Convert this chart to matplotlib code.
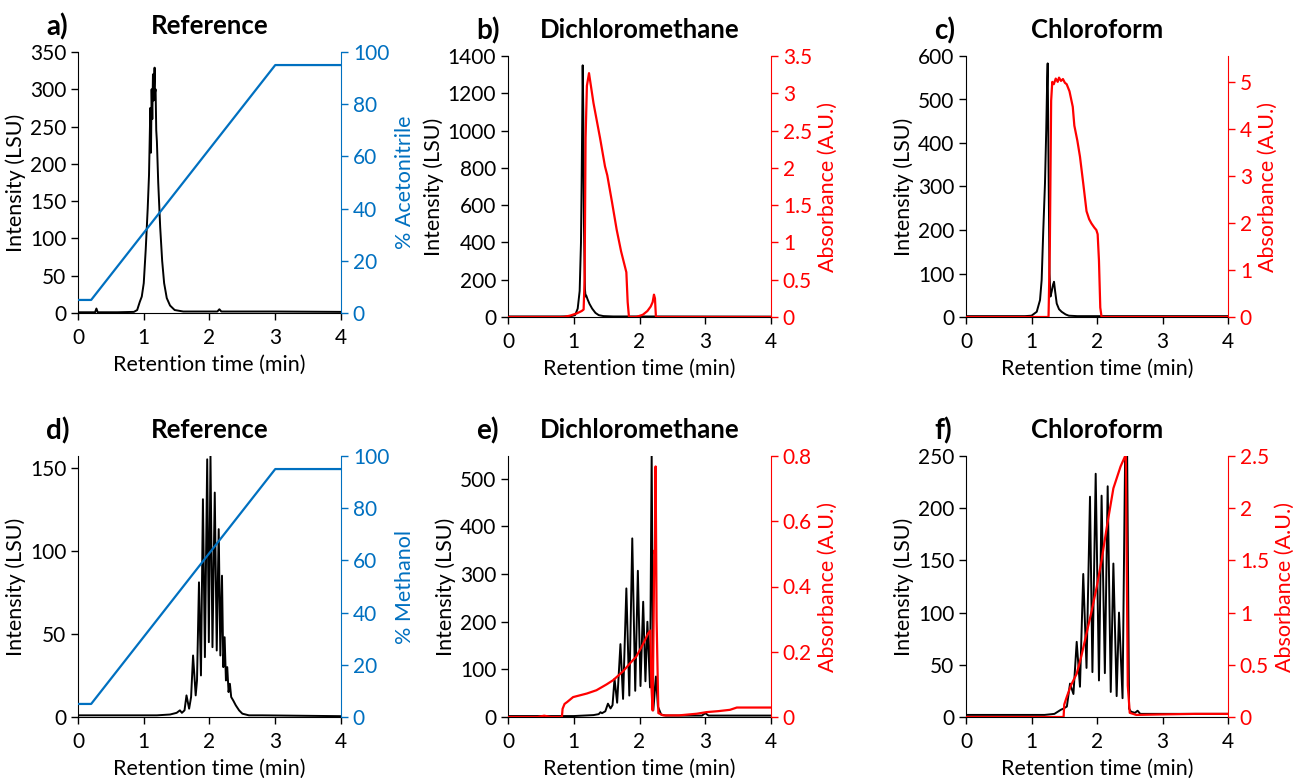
import matplotlib
matplotlib.use("Agg")
import matplotlib.pyplot as plt

plt.rcParams['font.family'] = ['Lato', 'DejaVu Sans']

BLUE = '#0070C0'
RED = '#FF0000'

# gradient programme (% organic), same for a) and d)
grad_t = [0, 0.2, 3.0, 4.0]
grad_pct = [5, 5, 95, 95]

# a) reference, acetonitrile
a_t = [0, 0.26, 0.28, 0.30, 0.6, 0.85, 0.90, 0.94, 0.97, 1.00, 1.03, 1.06, 1.08, 1.10, 1.11, 1.12, 1.13,
       1.14, 1.15, 1.16, 1.165, 1.17, 1.18, 1.19, 1.20, 1.22, 1.25, 1.28, 1.31, 1.35, 1.40, 1.47, 1.6,
       2.12, 2.15, 2.18, 3.0, 4.0]
a_lsu = [1, 1, 6, 1, 1, 1.5, 4, 15, 22, 40, 85, 140, 185, 275, 215, 300, 260,
         320, 285, 310, 329, 295, 300, 245, 230, 175, 115, 70, 40, 20, 10, 4, 2,
         2, 5, 2, 2, 1.5]

# b) dichloromethane, acetonitrile
b_t = [0, 0.8, 0.95, 1.02, 1.06, 1.09, 1.11, 1.12, 1.13, 1.136, 1.145, 1.155, 1.17, 1.18, 1.19, 1.21,
       1.24, 1.28, 1.33, 1.38, 1.45, 1.6, 2.0, 4.0]
b_lsu = [3, 3, 4, 10, 45, 140, 400, 720, 1100, 1350, 1100, 500, 150, 110, 115, 95,
         70, 45, 22, 10, 5, 3, 3, 2]
b_abs_t = [0, 0.85, 0.95, 1.05, 1.12, 1.15, 1.165, 1.18, 1.20, 1.232, 1.30, 1.40, 1.475, 1.51, 1.58,
           1.653, 1.72, 1.78, 1.80, 1.82, 1.84, 1.95, 2.05, 2.12, 2.17, 2.20, 2.22, 2.235, 2.25, 2.3, 4.0]
b_abs = [0, 0, 0.02, 0.05, 0.08, 0.1, 0.5, 2.4, 3.1, 3.27, 2.87, 2.4, 2.02, 1.9, 1.55,
         1.17, 0.88, 0.67, 0.6, 0.2, 0.0, 0.0, 0.03, 0.08, 0.14, 0.2, 0.3, 0.25, 0.0, 0, 0]

# c) chloroform, acetonitrile
c_t = [0, 0.9, 1.0, 1.08, 1.13, 1.155, 1.18, 1.206, 1.225, 1.24, 1.247, 1.26, 1.275, 1.29, 1.31, 1.33,
       1.344, 1.36, 1.385, 1.42, 1.46, 1.52, 1.57, 1.7, 2.2, 4.0]
c_lsu = [2, 2, 3, 12, 39, 85, 200, 308, 430, 550, 583, 350, 100, 47, 60, 75,
         81, 60, 31, 18, 12, 6, 3, 2, 2, 2]
c_abs_t = [0, 1.26, 1.28, 1.30, 1.317, 1.34, 1.37, 1.40, 1.42, 1.45, 1.48, 1.51, 1.537, 1.58, 1.63,
           1.654, 1.70, 1.74, 1.79, 1.84, 1.88, 1.915, 1.96, 1.99, 2.01, 2.03, 2.05, 2.07, 4.0]
c_abs = [0, 0, 1.5, 4.6, 5.0, 4.95, 5.07, 5.0, 5.09, 5.02, 5.06, 4.98, 4.95, 4.8, 4.47,
         4.07, 3.75, 3.41, 2.84, 2.25, 2.08, 1.99, 1.9, 1.85, 1.76, 1.2, 0.2, 0, 0]

# d) reference, methanol
d_t = [0, 1.2, 1.4, 1.5, 1.55, 1.58, 1.62, 1.65, 1.69, 1.72, 1.75, 1.79, 1.81, 1.84, 1.87, 1.90, 1.93,
       1.965, 1.99, 2.015, 2.045, 2.08, 2.11, 2.14, 2.165, 2.19, 2.21, 2.23, 2.25, 2.27, 2.29, 2.31,
       2.33, 2.36, 2.40, 2.45, 2.5, 2.6, 2.8, 4.0]
d_lsu = [1, 1, 1.5, 2.5, 4, 2.5, 4, 13, 5, 12, 37, 13, 22, 81, 25, 131, 36,
         155, 45, 157, 42, 135, 40, 113, 37, 85, 30, 48, 22, 30, 15, 20,
         12, 10, 7, 4, 2, 1, 1, 0.5]

# e) dichloromethane, methanol
e_t = [0, 1.0, 1.3, 1.38, 1.406, 1.43, 1.48, 1.52, 1.56, 1.59, 1.62, 1.66, 1.71, 1.75, 1.80, 1.845,
       1.89, 1.935, 1.975, 2.015, 2.056, 2.09, 2.12, 2.16, 2.185, 2.21, 2.25, 2.28, 2.33, 2.4, 2.6,
       2.95, 3.0, 3.05, 4.0]
e_lsu = [2, 2, 4, 6, 10, 8, 12, 28, 18, 25, 80, 30, 153, 38, 270, 45,
         375, 55, 307, 65, 242, 75, 200, 62, 550, 14, 85, 22, 5, 3, 3,
         3, 8, 3, 3]
e_abs_t = [0, 0.45, 0.55, 0.65, 0.82, 0.83, 0.86, 0.9, 0.99, 1.2, 1.345, 1.5, 1.6, 1.75, 1.853, 1.95,
           2.005, 2.07, 2.13, 2.167, 2.18, 2.2, 2.215, 2.225, 2.235, 2.245, 2.26, 2.287, 2.36, 2.6,
           2.87, 3.02, 3.2, 3.376, 3.48, 4.0]
e_abs = [0, 0, 0.004, 0, 0, 0.025, 0.04, 0.046, 0.061, 0.072, 0.082, 0.1, 0.113, 0.14, 0.164, 0.185,
         0.205, 0.23, 0.256, 0.265, 0.1, 0.02, 0.3, 0.51, 0.5, 0.768, 0.3, 0.012, 0.005, 0.005,
         0.01, 0.015, 0.018, 0.022, 0.029, 0.029]

# f) chloroform, methanol
f_t = [0, 1.2, 1.35, 1.4, 1.45, 1.486, 1.54, 1.588, 1.64, 1.69, 1.74, 1.79, 1.84, 1.893, 1.93, 1.98,
       2.03, 2.07, 2.12, 2.163, 2.21, 2.25, 2.3, 2.336, 2.39, 2.43, 2.46, 2.49, 2.52, 2.58, 2.62, 2.66,
       3.0, 4.0]
f_lsu = [2, 2, 3, 5, 7, 8, 10, 32, 22, 72, 29, 137, 47, 211, 43, 233,
         35, 212, 42, 221, 24, 147, 20, 100, 18, 255, 255, 8, 5, 4, 6, 3,
         3, 3]
f_abs_t = [0, 1.49, 1.5, 1.537, 1.6, 1.69, 1.76, 1.84, 1.92, 1.997, 2.07, 2.15, 2.25, 2.36, 2.43, 2.44,
           2.47, 2.5, 2.6, 3.0, 3.5, 4.0]
f_abs = [0, 0, 0.12, 0.19, 0.3, 0.415, 0.58, 0.8, 1.02, 1.25, 1.5, 1.82, 2.19, 2.4, 2.5, 2.5,
         0.3, 0.04, 0.02, 0.025, 0.03, 0.03]

W, H = 1293, 778
fig = plt.figure(figsize=(W / 100, H / 100), dpi=100)

TICK_FS = 15
LAB_FS = 15.5


def make_axes(left, right, top, bottom):
    return fig.add_axes([left / W, 1 - bottom / H, (right - left) / W, (bottom - top) / H])


def panel(box, letter, title, t, lsu, ylim, yticks, t2, y2, color, ylim2, yticks2, ylab2, ticklabs2=None):
    ax = make_axes(*box)
    ax.plot(t, lsu, color='black', lw=1.4)
    ax.set_xlim(0, 4)
    ax.set_ylim(*ylim)
    ax.set_xticks([0, 1, 2, 3, 4])
    ax.set_yticks(yticks)
    ax.spines['top'].set_visible(False)
    ax.spines['right'].set_visible(False)
    ax.tick_params(direction='out', length=5, labelsize=TICK_FS, width=1)
    ax.tick_params(axis='x', pad=6)
    ax.set_xlabel('Retention time (min)', fontsize=LAB_FS, labelpad=5)
    ax.set_ylabel('Intensity (LSU)', fontsize=LAB_FS, labelpad=3)

    ax2 = ax.twinx()
    ax2.plot(t2, y2, color=color, lw=1.6)
    ax2.set_ylim(*ylim2)
    ax2.set_yticks(yticks2)
    if ticklabs2 is not None:
        ax2.set_yticklabels(ticklabs2)
    for s in ['top', 'left', 'bottom']:
        ax2.spines[s].set_visible(False)
    ax2.spines['right'].set_color(color)
    ax2.tick_params(axis='y', direction='out', length=5, labelsize=TICK_FS, colors=color, width=1)
    ax2.set_ylabel(ylab2, fontsize=LAB_FS, color=color, labelpad=4)

    ax.text(-0.12, 1.045, letter, transform=ax.transAxes, fontsize=20, fontweight='bold',
            ha='left', va='bottom')
    ax.text(0.5, 1.055, title, transform=ax.transAxes, fontsize=18.5, fontweight='bold',
            ha='center', va='bottom')
    return ax, ax2


abs_lab = 'Absorbance (A.U.)'

panel((78, 341, 52, 313), 'a)', 'Reference', a_t, a_lsu, (0, 350), range(0, 351, 50),
      grad_t, grad_pct, BLUE, (0, 100), range(0, 101, 20), '% Acetonitrile')
panel((508, 771, 56, 317), 'b)', 'Dichloromethane', b_t, b_lsu, (0, 1400), range(0, 1401, 200),
      b_abs_t, b_abs, RED, (0, 3.5), [0, 0.5, 1, 1.5, 2, 2.5, 3, 3.5], abs_lab,
      ['0', '0.5', '1', '1.5', '2', '2.5', '3', '3.5'])
panel((966, 1228, 56, 317), 'c)', 'Chloroform', c_t, c_lsu, (0, 600), range(0, 601, 100),
      c_abs_t, c_abs, RED, (0, 5.55), range(0, 6), abs_lab)
panel((78, 341, 456, 717), 'd)', 'Reference', d_t, d_lsu, (0, 157), [0, 50, 100, 150],
      grad_t, grad_pct, BLUE, (0, 100), range(0, 101, 20), '% Methanol')
panel((508, 771, 456, 717), 'e)', 'Dichloromethane', e_t, e_lsu, (0, 548), range(0, 501, 100),
      e_abs_t, e_abs, RED, (0, 0.8), [0, 0.2, 0.4, 0.6, 0.8], abs_lab,
      ['0', '0.2', '0.4', '0.6', '0.8'])
panel((966, 1228, 456, 717), 'f)', 'Chloroform', f_t, f_lsu, (0, 250), range(0, 251, 50),
      f_abs_t, f_abs, RED, (0, 2.5), [0, 0.5, 1, 1.5, 2, 2.5], abs_lab,
      ['0', '0.5', '1', '1.5', '2', '2.5'])

fig.savefig('out.png', dpi=100)
